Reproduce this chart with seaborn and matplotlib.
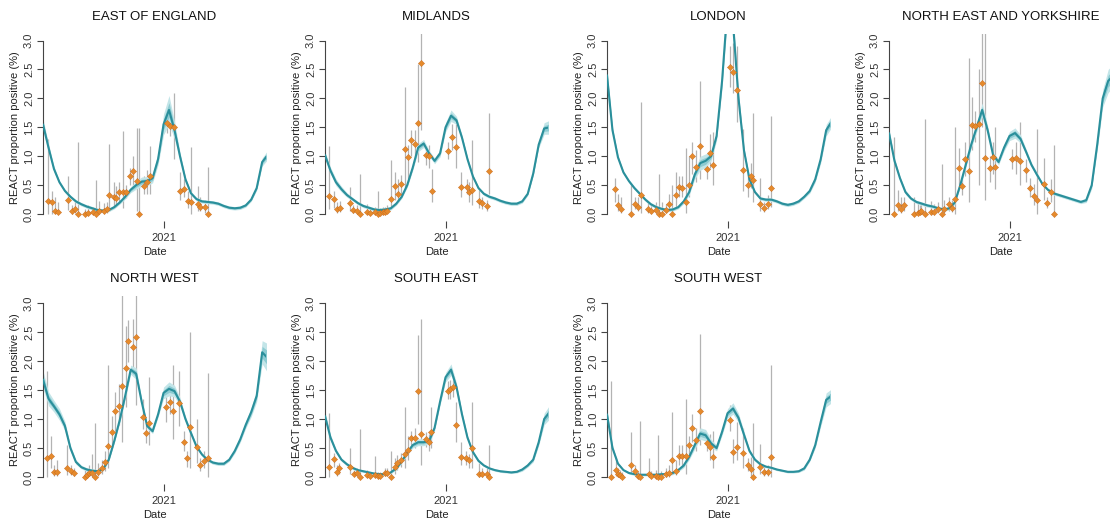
import numpy as np
import matplotlib
matplotlib.use('Agg')
import matplotlib.pyplot as plt
import seaborn as sns

sns.set_theme(style='white')
plt.rcParams['font.family'] = ['Liberation Sans', 'DejaVu Sans']

# ── Data (days relative to 1 Jan 2021) ─────────────────────
curve_days = list(range(-220, 191, 10))

# model fit (mean) and half width of the credible band, per region
eoe_mean = [1.55, 1.15, 0.78, 0.55, 0.40, 0.30, 0.22, 0.17, 0.13, 0.10,
            0.07, 0.06, 0.07, 0.12, 0.20, 0.30, 0.42, 0.50, 0.56, 0.57,
            0.62, 0.95, 1.55, 1.80, 1.45, 1.00, 0.60, 0.36, 0.26, 0.22,
            0.21, 0.20, 0.18, 0.14, 0.11, 0.10, 0.11, 0.15, 0.25, 0.45,
            0.90, 1.02]
eoe_band = [0.10, 0.07, 0.05, 0.03, 0.03, 0.03, 0.03, 0.03, 0.03, 0.03,
            0.03, 0.03, 0.03, 0.03, 0.03, 0.04, 0.05, 0.07, 0.08, 0.08,
            0.08, 0.10, 0.18, 0.25, 0.15, 0.07, 0.04, 0.03, 0.03, 0.03,
            0.03, 0.03, 0.03, 0.03, 0.03, 0.03, 0.03, 0.03, 0.03, 0.04,
            0.07, 0.08]

mid_mean = [1.02, 0.75, 0.55, 0.43, 0.33, 0.26, 0.19, 0.14, 0.11, 0.08,
            0.07, 0.08, 0.10, 0.18, 0.30, 0.50, 0.80, 1.15, 1.22, 1.05,
            0.92, 1.05, 1.50, 1.70, 1.62, 1.32, 0.95, 0.65, 0.45, 0.35,
            0.30, 0.27, 0.23, 0.20, 0.18, 0.18, 0.22, 0.35, 0.70, 1.20,
            1.48, 1.50]
mid_band = [0.06, 0.06, 0.06, 0.05, 0.04, 0.03, 0.03, 0.03, 0.03, 0.03,
            0.03, 0.03, 0.03, 0.03, 0.03, 0.04, 0.05, 0.07, 0.07, 0.05,
            0.05, 0.06, 0.08, 0.10, 0.07, 0.05, 0.04, 0.03, 0.03, 0.03,
            0.03, 0.03, 0.03, 0.03, 0.03, 0.03, 0.03, 0.03, 0.04, 0.06,
            0.10, 0.12]

lon_mean = [2.40, 1.45, 0.98, 0.72, 0.57, 0.45, 0.35, 0.25, 0.17, 0.12,
            0.09, 0.07, 0.08, 0.12, 0.22, 0.38, 0.68, 0.88, 0.92, 1.00,
            1.35, 2.30, 3.60, 3.30, 2.00, 1.10, 0.60, 0.38, 0.27, 0.25,
            0.25, 0.22, 0.18, 0.16, 0.18, 0.22, 0.30, 0.40, 0.60, 0.95,
            1.45, 1.60]
lon_band = [0.10, 0.06, 0.04, 0.03, 0.03, 0.03, 0.03, 0.03, 0.03, 0.03,
            0.03, 0.03, 0.03, 0.03, 0.04, 0.05, 0.08, 0.12, 0.12, 0.08,
            0.08, 0.12, 0.20, 0.20, 0.12, 0.06, 0.04, 0.03, 0.03, 0.03,
            0.03, 0.03, 0.03, 0.03, 0.03, 0.03, 0.03, 0.04, 0.05, 0.07,
            0.10, 0.10]

ney_mean = [1.40, 0.92, 0.62, 0.38, 0.27, 0.21, 0.18, 0.15, 0.13, 0.10,
            0.08, 0.10, 0.20, 0.50, 0.85, 1.20, 1.50, 1.80, 1.45, 1.02,
            0.90, 1.15, 1.35, 1.40, 1.30, 1.08, 0.85, 0.68, 0.52, 0.42,
            0.36, 0.33, 0.30, 0.27, 0.24, 0.21, 0.24, 0.50, 1.20, 2.00,
            2.30, 2.40]
ney_band = [0.08, 0.05, 0.04, 0.04, 0.03, 0.03, 0.03, 0.03, 0.03, 0.03,
            0.03, 0.03, 0.03, 0.04, 0.05, 0.06, 0.08, 0.12, 0.08, 0.05,
            0.05, 0.06, 0.08, 0.09, 0.07, 0.05, 0.04, 0.04, 0.03, 0.03,
            0.03, 0.03, 0.03, 0.03, 0.03, 0.03, 0.04, 0.06, 0.10, 0.15,
            0.20, 0.20]

nw_mean = [1.68, 1.35, 1.22, 1.08, 0.88, 0.50, 0.26, 0.17, 0.13, 0.11,
           0.10, 0.14, 0.30, 0.62, 0.98, 1.40, 1.85, 1.78, 1.30, 0.88,
           0.79, 1.08, 1.45, 1.52, 1.48, 1.30, 1.00, 0.76, 0.53, 0.39,
           0.30, 0.25, 0.23, 0.23, 0.30, 0.45, 0.65, 0.90, 1.12, 1.40,
           2.15, 2.05]
nw_band = [0.15, 0.12, 0.10, 0.10, 0.08, 0.05, 0.04, 0.03, 0.03, 0.03,
           0.03, 0.03, 0.03, 0.04, 0.05, 0.06, 0.08, 0.10, 0.06, 0.05,
           0.04, 0.05, 0.10, 0.12, 0.10, 0.07, 0.05, 0.04, 0.03, 0.03,
           0.03, 0.03, 0.03, 0.03, 0.03, 0.04, 0.05, 0.06, 0.08, 0.10,
           0.20, 0.25]

se_mean = [1.05, 0.68, 0.45, 0.30, 0.22, 0.16, 0.12, 0.10, 0.08, 0.06,
           0.05, 0.05, 0.08, 0.15, 0.27, 0.42, 0.55, 0.60, 0.60, 0.62,
           0.85, 1.30, 1.72, 1.85, 1.55, 1.08, 0.68, 0.43, 0.28, 0.20,
           0.15, 0.12, 0.10, 0.09, 0.08, 0.09, 0.13, 0.20, 0.30, 0.60,
           1.00, 1.12]
se_band = [0.08, 0.05, 0.04, 0.03, 0.03, 0.03, 0.02, 0.02, 0.02, 0.02,
           0.02, 0.02, 0.02, 0.03, 0.03, 0.04, 0.05, 0.06, 0.06, 0.05,
           0.05, 0.06, 0.08, 0.10, 0.07, 0.05, 0.04, 0.03, 0.03, 0.02,
           0.02, 0.02, 0.02, 0.02, 0.02, 0.02, 0.03, 0.03, 0.04, 0.06,
           0.10, 0.12]

sw_mean = [1.08, 0.50, 0.23, 0.12, 0.07, 0.05, 0.04, 0.04, 0.04, 0.04,
           0.05, 0.05, 0.07, 0.12, 0.20, 0.35, 0.55, 0.75, 0.72, 0.58,
           0.50, 0.78, 1.10, 1.18, 1.02, 0.73, 0.45, 0.30, 0.22, 0.18,
           0.16, 0.13, 0.11, 0.09, 0.09, 0.10, 0.15, 0.30, 0.55, 0.95,
           1.33, 1.40]
sw_band = [0.08, 0.05, 0.03, 0.02, 0.02, 0.02, 0.02, 0.02, 0.02, 0.02,
           0.02, 0.02, 0.03, 0.03, 0.04, 0.05, 0.07, 0.10, 0.10, 0.07,
           0.05, 0.06, 0.08, 0.10, 0.08, 0.06, 0.04, 0.03, 0.03, 0.02,
           0.02, 0.02, 0.02, 0.02, 0.02, 0.02, 0.03, 0.03, 0.05, 0.08,
           0.12, 0.12]

# REACT observations: day, estimate, lower, upper (%)
eoe_days = [-211, -203, -199, -193, -174, -167, -161, -156, -143, -137, -129, -123, -117,
            -109, -104, -100, -91, -86, -81, -74, -68, -62, -55, -48, -44, -36, -30, -25,
            6, 12, 20, 30, 38, 44, 50, 63, 67, 75, 82]
eoe_val = [0.22, 0.20, 0.06, 0.04, 0.25, 0.05, 0.09, 0.0, 0.0, 0.02, 0.04, 0.0, 0.06,
           0.06, 0.08, 0.33, 0.30, 0.28, 0.38, 0.38, 0.38, 0.65, 0.75, 0.57, 0.0, 0.49, 0.55, 0.65,
           1.57, 1.52, 1.50, 0.40, 0.44, 0.22, 0.20, 0.18, 0.13, 0.12, 0.0]
eoe_lo = [0.0, 0.0, 0.02, 0.0, 0.07, 0.0, 0.02, 0.0, 0.0, 0.0, 0.0, 0.0, 0.01,
          0.01, 0.02, 0.05, 0.10, 0.12, 0.20, 0.10, 0.28, 0.50, 0.45, 0.05, 0.0, 0.35, 0.35, 0.35,
          1.40, 1.35, 0.95, 0.25, 0.30, 0.10, 0.0, 0.05, 0.05, 0.02, 0.0]
eoe_hi = [1.30, 0.40, 0.30, 0.20, 0.65, 0.15, 0.25, 1.24, 0.08, 0.15, 0.13, 0.59, 0.22,
          0.19, 0.20, 1.21, 0.55, 0.48, 0.55, 1.43, 0.50, 0.80, 1.00, 1.48, 1.48, 0.65, 0.76, 1.18,
          1.80, 1.75, 2.10, 0.72, 0.60, 0.40, 1.16, 0.48, 0.30, 0.25, 0.82]

mid_days = [-212, -204, -199, -193, -174, -168, -162, -156, -143, -137, -129, -124, -120,
            -115, -110, -106, -100, -92, -87, -82, -74, -68, -63, -56, -50, -44, -36, -30, -25,
            5, 11, 19, 29, 39, 43, 49, 61, 67, 75, 80]
mid_val = [0.32, 0.26, 0.09, 0.10, 0.19, 0.07, 0.06, 0.0, 0.03, 0.02, 0.04, 0.0, 0.02,
           0.04, 0.04, 0.06, 0.26, 0.48, 0.35, 0.52, 1.12, 0.98, 1.28, 1.21, 1.57, 2.62, 1.02, 1.00, 0.40,
           1.09, 1.34, 1.16, 0.47, 0.47, 0.38, 0.42, 0.22, 0.19, 0.14, 0.74]
mid_lo = [0.08, 0.10, 0.02, 0.03, 0.06, 0.02, 0.02, 0.0, 0.0, 0.0, 0.0, 0.0, 0.0,
          0.0, 0.0, 0.02, 0.10, 0.25, 0.20, 0.33, 0.45, 0.60, 1.00, 0.95, 0.90, 1.45, 0.85, 0.80, 0.20,
          0.95, 1.10, 0.80, 0.30, 0.35, 0.20, 0.15, 0.10, 0.08, 0.05, 0.35]
mid_hi = [1.18, 0.40, 0.20, 0.22, 0.47, 0.15, 0.15, 0.70, 0.18, 0.10, 0.12, 0.40, 0.10,
          0.12, 0.12, 0.15, 0.93, 0.72, 0.60, 0.68, 2.20, 1.20, 1.45, 1.45, 2.60, 3.20, 1.18, 1.20, 0.78,
          1.25, 1.55, 1.55, 0.73, 0.60, 0.55, 1.28, 0.42, 0.30, 0.25, 1.75]

lon_days = [-206, -200, -195, -177, -169, -163, -158, -145, -139, -130, -126, -120, -113,
            -107, -101, -94, -89, -83, -75, -71, -64, -57, -50, -38, -32, -27,
            4, 10, 18, 29, 37, 43, 47, 60, 66, 74, 79]
lon_val = [0.44, 0.16, 0.09, 0.0, 0.17, 0.13, 0.33, 0.08, 0.05, 0.07, 0.0, 0.0, 0.07,
           0.17, 0.0, 0.33, 0.47, 0.45, 0.20, 0.51, 1.00, 0.82, 1.18, 0.78, 1.05, 0.85,
           2.55, 2.46, 2.15, 0.77, 0.51, 0.65, 0.59, 0.17, 0.10, 0.18, 0.45]
lon_lo = [0.20, 0.05, 0.02, 0.0, 0.08, 0.05, 0.02, 0.02, 0.02, 0.02, 0.0, 0.0, 0.02,
          0.06, 0.0, 0.10, 0.30, 0.30, 0.02, 0.30, 0.70, 0.55, 0.60, 0.60, 0.80, 0.50,
          2.20, 2.10, 1.60, 0.40, 0.30, 0.45, 0.20, 0.05, 0.03, 0.08, 0.12]
lon_hi = [0.62, 0.35, 0.30, 0.50, 0.30, 0.30, 1.93, 0.20, 0.15, 0.20, 0.70, 0.20, 0.18,
          0.35, 0.50, 0.72, 0.65, 0.65, 1.15, 1.00, 1.25, 1.10, 2.30, 0.95, 1.38, 1.42,
          2.90, 2.95, 2.90, 1.47, 0.70, 0.88, 1.74, 0.63, 0.20, 0.33, 1.70]

ney_days = [-211, -204, -199, -193, -175, -167, -164, -161, -155, -143, -137, -130, -123,
            -119, -111, -105, -100, -92, -87, -82, -74, -69, -63, -55, -50, -44, -36, -30, -26,
            5, 11, 19, 30, 38, 44, 50, 62, 68, 75, 82]
ney_val = [0.0, 0.16, 0.09, 0.15, 0.0, 0.02, 0.04, 0.06, 0.0, 0.04, 0.03, 0.09, 0.0,
           0.09, 0.17, 0.10, 0.26, 0.79, 0.49, 0.96, 0.75, 1.54, 1.53, 1.56, 2.27, 0.97, 0.79, 0.98, 0.82,
           0.95, 0.97, 0.92, 0.77, 0.45, 0.32, 0.25, 0.52, 0.19, 0.38, 0.0]
ney_lo = [0.0, 0.05, 0.02, 0.05, 0.0, 0.0, 0.0, 0.0, 0.0, 0.0, 0.0, 0.02, 0.0,
          0.02, 0.05, 0.03, 0.0, 0.50, 0.33, 0.65, 0.20, 1.10, 1.25, 0.50, 1.50, 0.25, 0.55, 0.70, 0.43,
          0.78, 0.70, 0.50, 0.55, 0.30, 0.15, 0.0, 0.25, 0.10, 0.20, 0.0]
ney_hi = [1.33, 0.42, 0.30, 0.30, 0.30, 0.20, 0.15, 0.20, 1.65, 0.22, 0.18, 0.20, 0.87,
          0.25, 0.30, 0.25, 1.50, 1.15, 0.65, 1.25, 2.70, 2.02, 1.78, 2.50, 3.20, 3.20, 1.00, 1.25, 1.50,
          1.12, 1.25, 1.60, 0.95, 0.62, 0.52, 1.47, 0.97, 0.30, 0.60, 1.20]

nw_days = [-212, -205, -200, -195, -176, -168, -164, -144, -140, -136, -130, -125, -120,
           -112, -106, -102, -94, -88, -82, -75, -69, -64, -56, -50, -38, -32, -27,
           5, 11, 18, 29, 37, 43, 49, 61, 66, 74, 81]
nw_val = [0.32, 0.37, 0.09, 0.09, 0.15, 0.11, 0.07, 0.0, 0.04, 0.07, 0.07, 0.0, 0.08,
          0.15, 0.26, 0.54, 0.78, 1.13, 1.22, 1.57, 1.88, 2.34, 2.24, 2.41, 1.03, 0.76, 0.93,
          1.21, 1.30, 1.13, 1.27, 0.61, 0.32, 0.87, 0.52, 0.20, 0.28, 0.32]
nw_lo = [0.0, 0.15, 0.02, 0.02, 0.03, 0.03, 0.02, 0.0, 0.0, 0.02, 0.0, 0.0, 0.02,
         0.05, 0.10, 0.15, 0.50, 0.80, 0.90, 0.60, 1.20, 1.98, 1.80, 1.25, 0.82, 0.58, 0.55,
         0.95, 1.08, 0.65, 0.88, 0.45, 0.18, 0.15, 0.25, 0.10, 0.15, 0.0]
nw_hi = [1.83, 0.70, 0.20, 0.30, 0.55, 0.20, 0.15, 0.12, 0.15, 0.20, 0.40, 0.93, 0.25,
         0.30, 0.45, 1.93, 1.05, 1.47, 1.60, 3.20, 2.60, 2.70, 2.72, 3.20, 1.35, 0.95, 1.72,
         1.45, 1.58, 1.93, 1.83, 0.80, 0.45, 2.50, 1.00, 0.32, 0.45, 1.80]

se_days = [-212, -204, -199, -194, -175, -167, -162, -156, -143, -137, -129, -124, -120,
           -111, -106, -100, -92, -88, -82, -74, -68, -63, -55, -50, -44, -36, -30, -26,
           5, 9, 13, 19, 29, 38, 43, 49, 61, 67, 75, 80]
se_val = [0.18, 0.31, 0.09, 0.15, 0.17, 0.05, 0.07, 0.0, 0.03, 0.01, 0.04, 0.01, 0.01,
          0.07, 0.07, 0.0, 0.17, 0.24, 0.30, 0.40, 0.47, 0.68, 0.67, 1.49, 0.75, 0.66, 0.60, 0.78,
          1.49, 1.52, 1.55, 0.89, 0.35, 0.32, 0.30, 0.50, 0.05, 0.05, 0.05, 0.0]
se_lo = [0.0, 0.18, 0.02, 0.05, 0.05, 0.01, 0.02, 0.0, 0.0, 0.0, 0.0, 0.0, 0.0,
         0.02, 0.02, 0.0, 0.05, 0.12, 0.18, 0.15, 0.30, 0.55, 0.50, 0.92, 0.20, 0.52, 0.45, 0.50,
         1.35, 1.35, 1.38, 0.60, 0.20, 0.20, 0.15, 0.15, 0.0, 0.0, 0.0, 0.0]
se_hi = [1.10, 0.42, 0.20, 0.25, 0.50, 0.12, 0.15, 0.83, 0.12, 0.08, 0.37, 0.08, 0.08,
         0.15, 0.15, 0.45, 0.32, 0.38, 0.42, 1.20, 0.70, 0.80, 0.85, 2.45, 2.72, 0.78, 0.75, 1.20,
         1.65, 1.68, 1.68, 1.30, 0.60, 0.45, 0.40, 1.30, 0.25, 0.15, 0.15, 0.55]

sw_days = [-213, -204, -200, -196, -193, -177, -169, -164, -159, -144, -139, -131, -127,
           -121, -113, -107, -101, -94, -89, -83, -75, -71, -64, -57, -50, -38, -32, -27,
           4, 10, 18, 28, 37, 42, 47, 60, 66, 74, 79]
sw_val = [0.0, 0.12, 0.05, 0.03, 0.0, 0.20, 0.10, 0.01, 0.0, 0.05, 0.01, 0.01, 0.0,
          0.0, 0.05, 0.07, 0.30, 0.10, 0.37, 0.37, 0.37, 0.55, 0.85, 0.64, 1.13, 0.59, 0.51, 0.35,
          0.99, 0.44, 0.51, 0.42, 0.21, 0.14, 0.0, 0.18, 0.09, 0.09, 0.35]
sw_lo = [0.0, 0.02, 0.0, 0.0, 0.0, 0.05, 0.02, 0.0, 0.0, 0.0, 0.0, 0.0, 0.0,
         0.0, 0.0, 0.0, 0.05, 0.03, 0.20, 0.20, 0.05, 0.40, 0.60, 0.45, 0.55, 0.45, 0.30, 0.15,
         0.80, 0.25, 0.30, 0.15, 0.10, 0.02, 0.0, 0.05, 0.02, 0.02, 0.0]
sw_hi = [1.65, 0.35, 0.15, 0.12, 0.08, 0.78, 0.20, 0.10, 0.97, 0.32, 0.10, 0.12, 0.73,
         0.10, 0.15, 0.20, 1.12, 0.30, 0.55, 0.55, 1.35, 0.70, 1.08, 0.85, 2.47, 0.72, 0.75, 0.80,
         1.25, 0.65, 0.95, 0.85, 0.33, 0.35, 0.93, 0.57, 0.20, 0.20, 1.93]

panels = [
    ('EAST OF ENGLAND', eoe_mean, eoe_band, eoe_days, eoe_val, eoe_lo, eoe_hi),
    ('MIDLANDS', mid_mean, mid_band, mid_days, mid_val, mid_lo, mid_hi),
    ('LONDON', lon_mean, lon_band, lon_days, lon_val, lon_lo, lon_hi),
    ('NORTH EAST AND YORKSHIRE', ney_mean, ney_band, ney_days, ney_val, ney_lo, ney_hi),
    ('NORTH WEST', nw_mean, nw_band, nw_days, nw_val, nw_lo, nw_hi),
    ('SOUTH EAST', se_mean, se_band, se_days, se_val, se_lo, se_hi),
    ('SOUTH WEST', sw_mean, sw_band, sw_days, sw_val, sw_lo, sw_hi),
]

# ── Styling ────────────────────────────────────────────────
LINE = '#2a8f9b'
BAND_OUT = '#c3e5e8'
BAND_IN = '#8dcbd2'
POINT = '#e58a2c'
BAR = '#b3b3b3'
AXC = '#444444'

W, H = 1110, 519
fig = plt.figure(figsize=(W / 100, H / 100), dpi=100)

lefts = [43, 325, 607, 889]
rows = [(33.6, 221.0), (296.0, 484.0)]   # top / bottom in pixels
ax_w = 223

x = np.array(curve_days)
for i, (title, mean, band, days, val, lo, hi) in enumerate(panels):
    r, c = divmod(i, 4)
    top, bot = rows[r]
    ax = fig.add_axes([lefts[c] / W, 1 - bot / H, ax_w / W, (bot - top) / H])

    m = np.array(mean)
    b = np.array(band)
    ax.vlines(days, lo, hi, color=BAR, lw=0.9, zorder=1)
    ax.fill_between(x, np.clip(m - b, 0, None), m + b, color=BAND_OUT, lw=0, zorder=2)
    ax.fill_between(x, np.clip(m - b / 2, 0, None), m + b / 2, color=BAND_IN, lw=0, zorder=2)
    sns.lineplot(x=x, y=m, ax=ax, color=LINE, lw=1.5, errorbar=None, zorder=3)
    sns.scatterplot(x=days, y=val, ax=ax, marker='D', s=10, color=POINT,
                    edgecolor='#c8691b', linewidth=0.3, zorder=4)

    ax.set_xlim(-220, 187)
    ax.set_ylim(-0.12, 3.12)
    for s in ['top', 'right', 'bottom']:
        ax.spines[s].set_visible(False)
    ax.spines['left'].set_bounds(0, 3)
    ax.spines['left'].set_color(AXC)
    ax.spines['left'].set_linewidth(0.8)

    ax.set_yticks(np.arange(0, 3.01, 0.5))
    ax.set_yticklabels([f'{v:.1f}' for v in np.arange(0, 3.01, 0.5)],
                       rotation=90, va='center', fontsize=8, color='#333333')
    ax.set_xticks([0])
    ax.set_xticklabels(['2021'], fontsize=8, color='#333333')
    ax.tick_params(axis='y', direction='out', length=4.5, width=0.8,
                   color=AXC, pad=2, left=True)
    ax.tick_params(axis='x', direction='out', length=5, width=0.8,
                   color=AXC, pad=3.5, bottom=True)

    ax.set_title(title, fontsize=9.5, pad=10, color='#111111')
    ax.set_xlabel('Date', fontsize=8, labelpad=3, color='#222222')
    ax.set_ylabel('REACT proportion positive (%)', fontsize=8, labelpad=3, color='#222222')

plt.savefig('out.png', dpi=100)
plt.close()
